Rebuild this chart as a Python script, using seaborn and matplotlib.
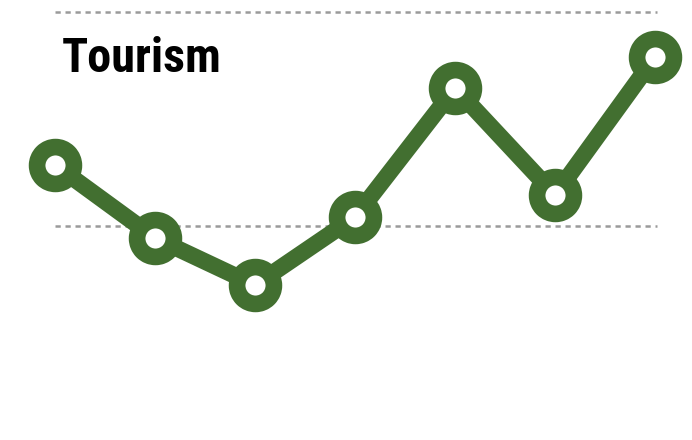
import matplotlib
matplotlib.use("Agg")
import matplotlib.pyplot as plt
import seaborn as sns
import pandas as pd
from matplotlib import font_manager

periods = ["P1", "P2", "P3", "P4", "P5", "P6", "P7"]
values = [2.85, -0.56, -2.76, 0.42, 6.45, 1.45, 7.9]
grid_values = [0, 10]
title = "Tourism"

sns.set_style("white")
names = {f.name for f in font_manager.fontManager.ttflist}
cond = [n for n in ["Liberation Sans Narrow", "Roboto Condensed", "Open Sans Condensed", "DejaVu Sans Condensed"] if n in names]
fam = (cond[:1] if cond else ["Liberation Sans"]) + ["DejaVu Sans"]
plt.rcParams["font.family"] = fam

color = "#426f30"
fig = plt.figure(figsize=(6.92, 4.40), dpi=100)
ax = fig.add_axes([0, 0, 1, 1])

df = pd.DataFrame({"x": range(len(periods)), "y": values})
for g in grid_values:
    ax.hlines(g, 0, len(periods) - 1 + 0.02, colors="#9a9a9a", linestyles=(0, (2.1, 1.9)), linewidth=1.8, zorder=1)

sns.lineplot(data=df, x="x", y="y", ax=ax, color=color, linewidth=12,
             marker="o", markersize=26.5, markerfacecolor="white",
             markeredgecolor=color, markeredgewidth=12, zorder=3)

ax.set_xlim(-0.55, 6.37)
ax.set_ylim(-10.0, 10.56)
ax.axis("off")

t = ax.text(62 / 692, 1 - 72 / 440, title, transform=ax.transAxes, fontsize=36,
            fontweight="bold", color="black", ha="left", va="baseline")
fig.canvas.draw()
w = t.get_window_extent().width
if w > 162:
    t.set_fontsize(36 * 160 / w)

fig.savefig("out.png", dpi=100)
